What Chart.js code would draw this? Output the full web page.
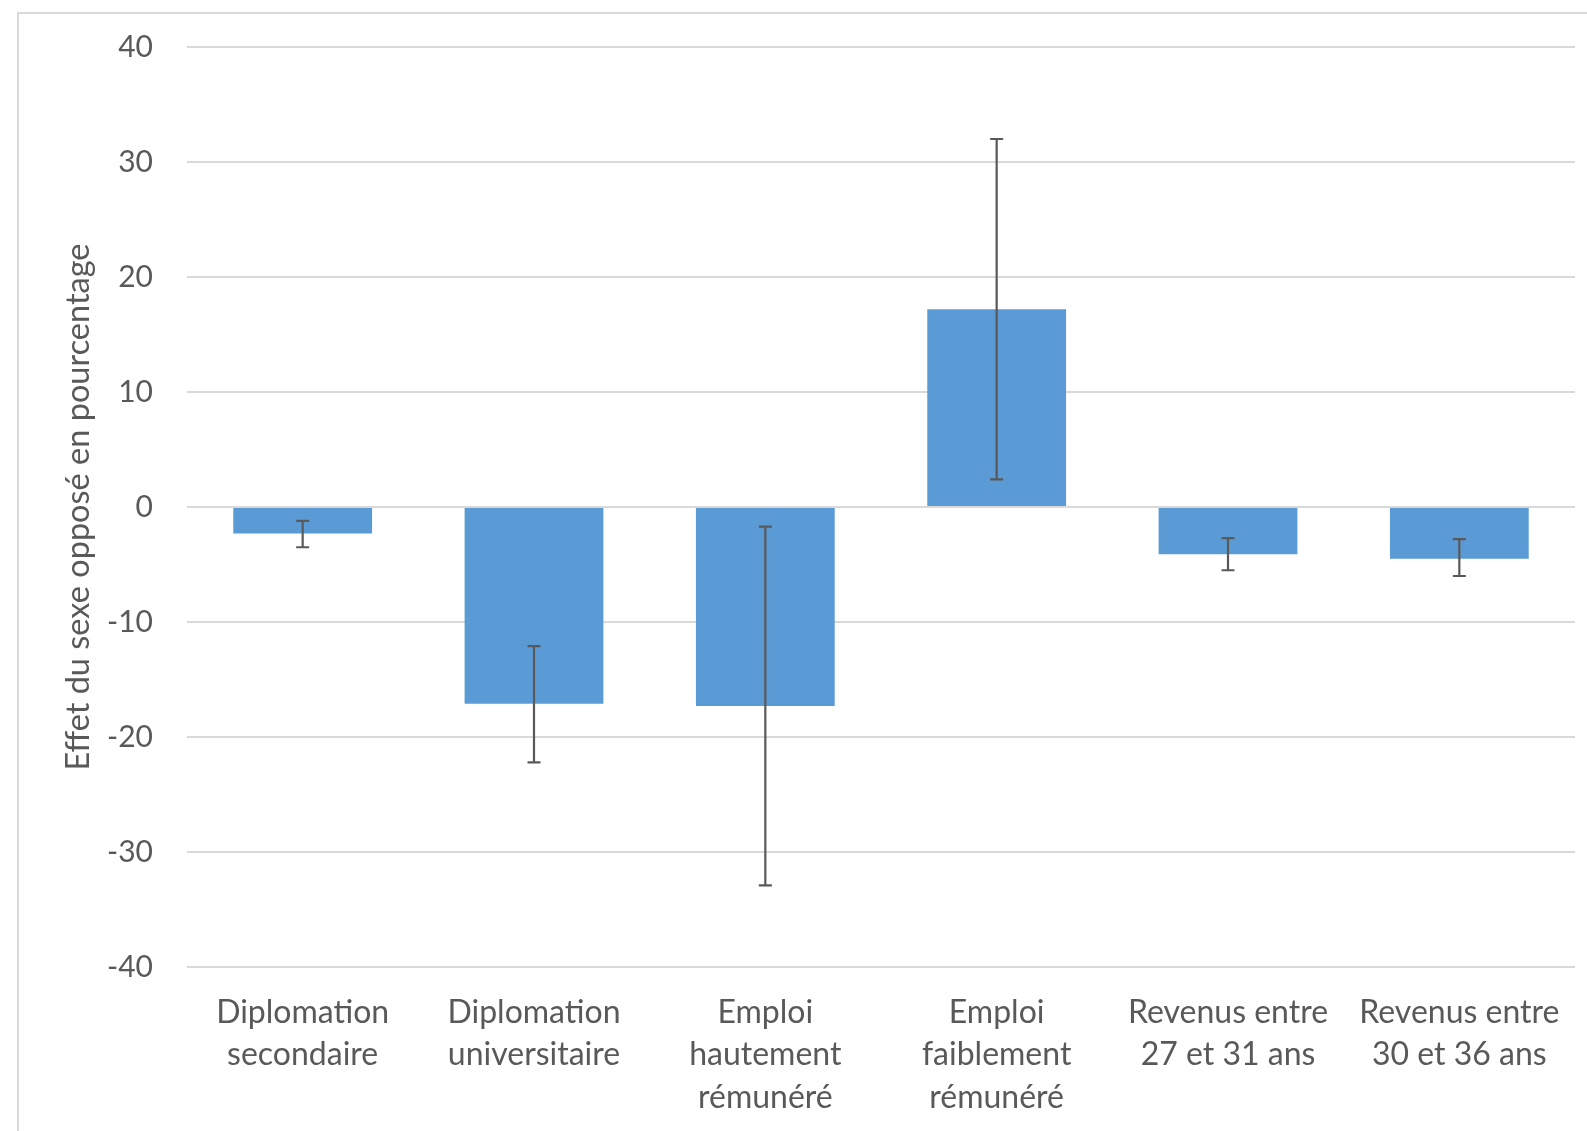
<!DOCTYPE html>
<html>
<head>
<meta charset="utf-8">
<script src="https://cdn.jsdelivr.net/npm/chart.js@4/dist/chart.umd.min.js"></script>
<style>
  html, body { margin: 0; padding: 0; background: #fff; }
  #wrap { position: relative; width: 1587px; height: 1131px; }
</style>
</head>
<body>
<div id="wrap"><canvas id="c" width="1587" height="1131"></canvas></div>
<script>
const categories = [
  ["Diplomation", "secondaire"],
  ["Diplomation", "universitaire"],
  ["Emploi", "hautement", "rémunéré"],
  ["Emploi", "faiblement", "rémunéré"],
  ["Revenus entre", "27 et 31 ans"],
  ["Revenus entre", "30 et 36 ans"]
];
const effects = [-2.3, -17.1, -17.3, 17.2, -4.1, -4.5];
const errLower = [-3.5, -22.2, -32.9, 2.4, -5.5, -6.0];
const errUpper = [-1.2, -12.1, -1.7, 32.0, -2.7, -2.8];
const yTicks = [-40, -30, -20, -10, 0, 10, 20, 30, 40];
const yTitle = "Effet du sexe opposé en pourcentage";

const FONT = "Lato, 'Open Sans', sans-serif";
const TEXT = "#595959";

const frame = {
  id: 'frame',
  beforeDraw(chart) {
    const ctx = chart.ctx;
    ctx.save();
    ctx.strokeStyle = '#D9D9D9';
    ctx.lineWidth = 2;
    ctx.strokeRect(18, 13, 1700, 1300);
    ctx.restore();
  }
};

const errorBars = {
  id: 'errorBars',
  afterDatasetsDraw(chart) {
    const ctx = chart.ctx;
    const meta = chart.getDatasetMeta(0);
    const y = chart.scales.y;
    ctx.save();
    ctx.strokeStyle = '#595959';
    ctx.lineWidth = 2.2;
    meta.data.forEach((bar, i) => {
      const x = bar.x;
      const yLo = y.getPixelForValue(errLower[i]);
      const yHi = y.getPixelForValue(errUpper[i]);
      const cap = 6.5;
      ctx.beginPath();
      ctx.moveTo(x, yLo); ctx.lineTo(x, yHi);
      ctx.moveTo(x - cap, yLo); ctx.lineTo(x + cap, yLo);
      ctx.moveTo(x - cap, yHi); ctx.lineTo(x + cap, yHi);
      ctx.stroke();
    });
    ctx.restore();
  }
};

new Chart(document.getElementById('c'), {
  type: 'bar',
  data: {
    labels: categories,
    datasets: [{
      data: effects,
      backgroundColor: '#5B9BD5',
      borderWidth: 0,
      categoryPercentage: 1.0,
      barPercentage: 0.6
    }]
  },
  options: {
    responsive: false,
    animation: false,
    devicePixelRatio: 1,
    layout: { padding: { top: 47, right: 12, bottom: 0, left: 0 } },
    plugins: { legend: { display: false }, tooltip: { enabled: false } },
    scales: {
      x: {
        afterFit(scale) { scale.height = 164; },
        grid: { display: false, drawTicks: false },
        border: { display: false },
        ticks: {
          color: TEXT,
          font: { family: FONT, size: 32, lineHeight: 1.33 },
          padding: 24,
          maxRotation: 0,
          autoSkip: false
        }
      },
      y: {
        min: -40, max: 40,
        afterBuildTicks(scale) { scale.ticks = yTicks.map(v => ({ value: v })); },
        afterFit(scale) { scale.width = 187; scale.paddingTop = 0; scale.paddingBottom = 0; },
        grid: { color: '#D9D9D9', lineWidth: 2, drawTicks: false },
        border: { display: false },
        ticks: {
          color: TEXT,
          font: { family: FONT, size: 30 },
          padding: 34
        },
        title: {
          display: true,
          text: yTitle,
          color: TEXT,
          font: { family: FONT, size: 32.5 },
          padding: { top: 59, bottom: 0 }
        }
      }
    }
  },
  plugins: [frame, errorBars]
});
</script>
</body>
</html>
